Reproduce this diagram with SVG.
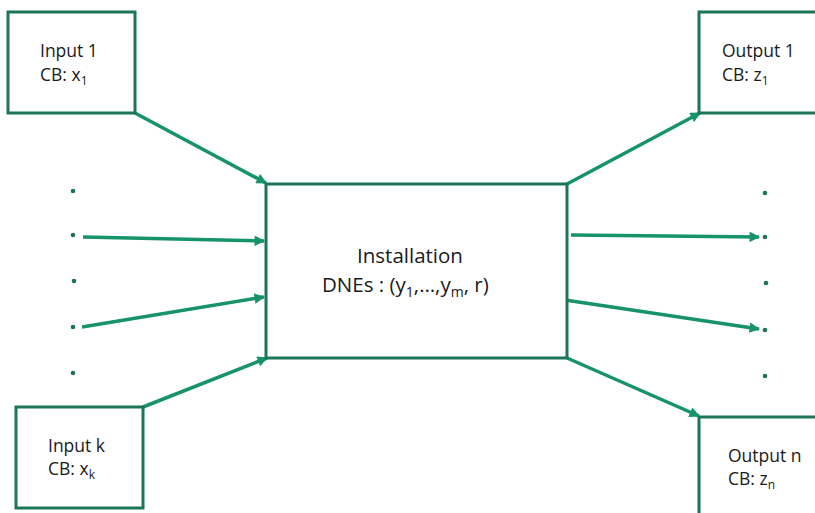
<svg xmlns="http://www.w3.org/2000/svg" width="815" height="513" viewBox="0 0 815 513">
<defs>
<style>
.box{fill:#fff;stroke:#1d7559;stroke-width:3}
.arr{stroke:#16936b;stroke-width:3.5;fill:none;marker-end:url(#ah)}
.dot{fill:#1d7559}
.t{font-family:"Open Sans",sans-serif;font-size:17.5px;fill:#1a1a1a}
.tb{font-family:"Open Sans",sans-serif;font-size:20.5px;fill:#1a1a1a}
.s{font-size:12px}
.sb{font-size:14px}
</style>
<marker id="ah" viewBox="0 0 10 10" refX="9" refY="5" markerWidth="3.6" markerHeight="3" orient="auto" markerUnits="strokeWidth">
<path d="M0,0 L10,5 L0,10 z" fill="#16936b"/>
</marker>
</defs>
<rect width="815" height="513" fill="#fff"/>
<g id="connectors">
<line class="arr" x1="135" y1="113" x2="266" y2="183"/>
<line class="arr" x1="83" y1="237" x2="264" y2="241"/>
<line class="arr" x1="82" y1="327" x2="264" y2="297"/>
<line class="arr" x1="143" y1="407" x2="267" y2="358"/>
<line class="arr" x1="567" y1="184" x2="700" y2="113"/>
<line class="arr" x1="571" y1="235" x2="759" y2="237"/>
<line class="arr" x1="565" y1="300" x2="759" y2="329"/>
<line class="arr" x1="567" y1="358" x2="699" y2="416"/>
</g>
<g id="dots-left">
<circle class="dot" cx="73" cy="191" r="2.3"/>
<circle class="dot" cx="73" cy="235" r="2.3"/>
<circle class="dot" cx="74" cy="281" r="2.3"/>
<circle class="dot" cx="73" cy="327" r="2.3"/>
<circle class="dot" cx="73" cy="373" r="2.3"/>
</g>
<g id="dots-right">
<circle class="dot" cx="765" cy="193" r="2.3"/>
<circle class="dot" cx="765" cy="237" r="2.3"/>
<circle class="dot" cx="766" cy="283" r="2.3"/>
<circle class="dot" cx="765" cy="330" r="2.3"/>
<circle class="dot" cx="765" cy="376" r="2.3"/>
</g>
<g id="input1">
<rect class="box" x="8" y="12" width="127" height="101"/>
<text class="t" x="40" y="57">Input 1</text>
<text class="t" x="40" y="81">CB: x<tspan class="s" dy="4">1</tspan></text>
</g>
<g id="inputk">
<rect class="box" x="16" y="407" width="127" height="101"/>
<text class="t" x="48" y="452">Input k</text>
<text class="t" x="48" y="475">CB: x<tspan class="s" dy="4">k</tspan></text>
</g>
<g id="installation">
<rect class="box" x="266" y="184" width="301" height="174"/>
<text class="tb" x="410" y="263" text-anchor="middle">Installation</text>
<text class="tb" x="322" y="292">DNEs : (y<tspan class="sb" dy="5">1</tspan><tspan dy="-5">,…,y</tspan><tspan class="sb" dy="5">m</tspan><tspan dy="-5">, r)</tspan></text>
</g>
<g id="output1">
<rect class="box" x="699" y="12" width="130" height="101"/>
<text class="t" x="722" y="57">Output 1</text>
<text class="t" x="722" y="81">CB: z<tspan class="s" dy="4">1</tspan></text>
</g>
<g id="outputn">
<rect class="box" x="699" y="417" width="130" height="110"/>
<text class="t" x="728" y="462">Output n</text>
<text class="t" x="728" y="485">CB: z<tspan class="s" dy="4">n</tspan></text>
</g>
</svg>
